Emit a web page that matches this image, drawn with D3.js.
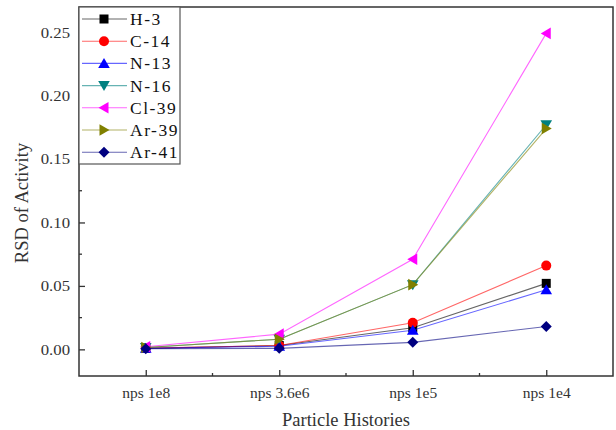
<!DOCTYPE html>
<html><head><meta charset="utf-8">
<script src="https://cdn.jsdelivr.net/npm/d3@7"></script>
<style>body{margin:0;background:#fff}svg{display:block}text{font-family:"Liberation Serif","Times New Roman",serif}</style>
</head><body><svg id="c" width="616" height="430"></svg>
<script>
const categories = ["nps 1e8", "nps 3.6e6", "nps 1e5", "nps 1e4"];
const seriesNames = ["H-3", "C-14", "N-13", "N-16", "Cl-39", "Ar-39", "Ar-41"];
const h3   = [0.0008, 0.003, 0.017, 0.052];
const c14  = [0.001, 0.003, 0.021, 0.066];
const n13  = [0.0008, 0.0025, 0.015, 0.047];
const n16  = [0.0015, 0.008, 0.051, 0.177];
const cl39 = [0.002, 0.012, 0.071, 0.249];
const ar39 = [0.0015, 0.008, 0.051, 0.174];
const ar41 = [0.0005, 0.0008, 0.0055, 0.018];
const yTicks = [0.00, 0.05, 0.10, 0.15, 0.20, 0.25];
const xTitle = "Particle Histories";
const yTitle = "RSD of Activity";

const values = [h3, c14, n13, n16, cl39, ar39, ar41];
const colors = ["#000000", "#ff0000", "#0000ff", "#008080", "#ff00ff", "#808000", "#000080"];
const shapes = ["square", "circle", "up", "down", "left", "right", "diamond"];

const FF = "'Liberation Serif','Times New Roman',serif";
const svg = d3.select("#c").attr("font-family", FF);
const L = 79, R = 613, T = 7, B = 376;
const x = d3.scalePoint().domain(categories).range([L, R]).padding(0.5);
const y = d3.scaleLinear().domain([-0.021, 0.2698]).range([B, T]);

// axes
const axCol = "#333";
const gx = svg.append("g").attr("transform", `translate(0,${B})`)
  .call(d3.axisBottom(x).tickSizeInner(-6).tickSizeOuter(0));
gx.attr("font-family", FF);
gx.select(".domain").remove();
gx.selectAll("line").attr("stroke", axCol).attr("stroke-width", 1.3);
gx.selectAll("text").attr("font-size", 15.5).attr("fill", "#333").attr("y", 22).attr("dy", 0);
// minor x ticks
const step = x.step();
const xMinor = categories.slice(0, -1).map(c => x(c) + step / 2);
svg.append("g").selectAll("line").data(xMinor).join("line")
  .attr("x1", d => d).attr("x2", d => d).attr("y1", B).attr("y2", B - 3)
  .attr("stroke", axCol).attr("stroke-width", 1.3);

const gy = svg.append("g").attr("transform", `translate(${L},0)`)
  .call(d3.axisLeft(y).tickValues(yTicks).tickFormat(d3.format(".2f")).tickSizeInner(-6).tickSizeOuter(0).tickPadding(9));
gy.attr("font-family", FF);
gy.select(".domain").remove();
gy.selectAll("line").attr("stroke", axCol).attr("stroke-width", 1.3);
gy.selectAll("text").attr("font-size", 15.5).attr("fill", "#333")
  .attr("x", -9 / 1.08).attr("transform", "scale(1.08,1)");
const yMinor = yTicks.slice(0, -1).map(v => v + 0.025);
svg.append("g").selectAll("line").data(yMinor).join("line")
  .attr("x1", L).attr("x2", L + 3).attr("y1", d => y(d)).attr("y2", d => y(d))
  .attr("stroke", axCol).attr("stroke-width", 1.3);

// frame
svg.append("rect").attr("x", L).attr("y", T).attr("width", R - L).attr("height", B - T)
  .attr("fill", "none").attr("stroke", axCol).attr("stroke-width", 1.5);

// titles
svg.append("text").attr("x", 346).attr("y", 426).attr("text-anchor", "middle")
  .attr("font-size", 18.5).attr("fill", "#333").text(xTitle);
svg.append("text").attr("transform", `translate(28,203) rotate(-90)`).attr("text-anchor", "middle")
  .attr("font-size", 18.5).attr("fill", "#333").text(yTitle);

function marker(g, shape, color, cx, cy) {
  const s = 5;
  let el;
  if (shape === "square") el = g.append("rect").attr("x", cx - 4.5).attr("y", cy - 4.5).attr("width", 9).attr("height", 9);
  else if (shape === "circle") el = g.append("circle").attr("cx", cx).attr("cy", cy).attr("r", 5);
  else {
    let pts;
    if (shape === "up") pts = [[0, -s - 0.5], [s + 0.8, s - 0.5], [-s - 0.8, s - 0.5]];
    if (shape === "down") pts = [[0, s + 0.5], [s + 0.8, -s + 0.5], [-s - 0.8, -s + 0.5]];
    if (shape === "left") pts = [[-s - 0.5, 0], [s - 0.5, -s - 0.8], [s - 0.5, s + 0.8]];
    if (shape === "right") pts = [[s + 0.5, 0], [-s + 0.5, -s - 0.8], [-s + 0.5, s + 0.8]];
    if (shape === "diamond") pts = [[0, -s - 0.5], [s + 0.5, 0], [0, s + 0.5], [-s - 0.5, 0]];
    el = g.append("polygon").attr("points", pts.map(p => [cx + p[0], cy + p[1]].join(",")).join(" "));
  }
  el.attr("fill", color);
}

// series
const line = d3.line().x((d, i) => x(categories[i])).y(d => y(d));
seriesNames.forEach((name, k) => {
  const g = svg.append("g");
  g.append("path").datum(values[k]).attr("d", line).attr("fill", "none")
    .attr("stroke", colors[k]).attr("stroke-width", 1.1).attr("stroke-opacity", 0.6);
  values[k].forEach((v, i) => marker(g, shapes[k], colors[k], x(categories[i]), y(v)));
});

// legend
const lg = svg.append("g");
lg.append("rect").attr("x", L).attr("y", T).attr("width", 101).attr("height", 157)
  .attr("fill", "#fff").attr("stroke", "#555").attr("stroke-width", 1.2);
seriesNames.forEach((name, k) => {
  const cy = 19 + k * 22.2;
  lg.append("line").attr("x1", 82).attr("x2", 127).attr("y1", cy).attr("y2", cy)
    .attr("stroke", colors[k]).attr("stroke-width", 1.1).attr("stroke-opacity", 0.6);
  marker(lg, shapes[k], colors[k], 104, cy);
  lg.append("text").attr("x", 130).attr("y", cy + 5.9).attr("font-size", 17.5)
    .attr("letter-spacing", 1.5).attr("fill", "#111").text(name);
});
</script></body></html>
